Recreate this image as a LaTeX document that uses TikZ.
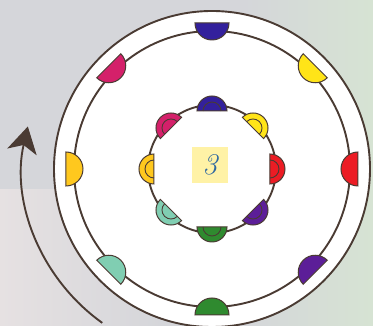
\documentclass[tikz,border=0pt]{standalone}
\usepackage{xcolor}
\usepackage{tikz}
\usetikzlibrary{arrows.meta,positioning}
\definecolor{ringBrown}{HTML}{4A3B33}
\definecolor{bgGray}{HTML}{D5D6DA}
\definecolor{bgGreen}{HTML}{D6E3D3}
\definecolor{bgPink}{HTML}{E6E1E2}
\definecolor{mkIndigo}{HTML}{33209C}
\definecolor{mkYellow}{HTML}{FFE418}
\definecolor{mkRed}{HTML}{EC1C24}
\definecolor{mkPurple}{HTML}{5C1E98}
\definecolor{mkGreen}{HTML}{2F8A2F}
\definecolor{mkTeal}{HTML}{80CEB2}
\definecolor{mkGold}{HTML}{FFC81E}
\definecolor{mkMagenta}{HTML}{D4206A}
\definecolor{numBlue}{HTML}{2F68A0}
\definecolor{numBox}{HTML}{FFF2A6}

\begin{document}
\begin{tikzpicture}[x=1pt, y=1pt, >=Stealth,
  ring/.style={draw=ringBrown, line width=1.9pt},
  petal/.style={draw=ringBrown, line width=1pt},
  numbox/.style={fill=numBox, minimum size=36pt, inner sep=0pt,
    font=\fontsize{30}{32}\selectfont\itshape, text=numBlue}]
% --- background ---
  \useasboundingbox (-212,-157) rectangle (161,169);
  \fill[bgGray] (-212,-157) rectangle (161,169);
  \shade[left color=bgGray, right color=bgGreen] (30,-157) rectangle (161,169);
  \shade[left color=bgPink, right color=bgGray] (-212,-157) rectangle (-50,-21);
% --- rings ---
  \coordinate (O) at (0,0);
  \fill[white] (O) circle (158);
  \draw[ring] (O) circle (158);
  \draw[ring] (O) circle (138);
  \draw[ring] (O) circle (64);
% --- outer petals ---
  \foreach \a/\c in {90/mkIndigo,45/mkYellow,0/mkRed,-45/mkPurple,
                     -90/mkGreen,-135/mkTeal,180/mkGold,135/mkMagenta}
    \filldraw[petal, fill=\c, rotate=\a] (146,17) -- (146,-17)
      arc[start angle=-90, end angle=-270, radius=17] -- cycle;
% --- inner petals ---
  \foreach \a/\c in {90/mkIndigo,45/mkYellow,0/mkRed,-45/mkPurple,
                     -90/mkGreen,-135/mkTeal,180/mkGold,135/mkMagenta}{
    \filldraw[petal, fill=\c, rotate=\a] (58,15) -- (58,-15)
      arc[start angle=-90, end angle=90, radius=15] -- cycle;
    \draw[petal, line width=0.9pt, rotate=\a] (58,-9)
      arc[start angle=-90, end angle=90, radius=9];
  }
  \node[numbox] (num) at (-2,4) {3};
% --- turning arrow ---
  \coordinate (arrowstart) at (234.5:189);
  \draw[ringBrown, line width=1.9pt, -{Stealth[length=26pt,width=30pt,inset=7pt]}]
    (arrowstart) arc[start angle=234.5, end angle=167, radius=189];
\end{tikzpicture}
\end{document}
